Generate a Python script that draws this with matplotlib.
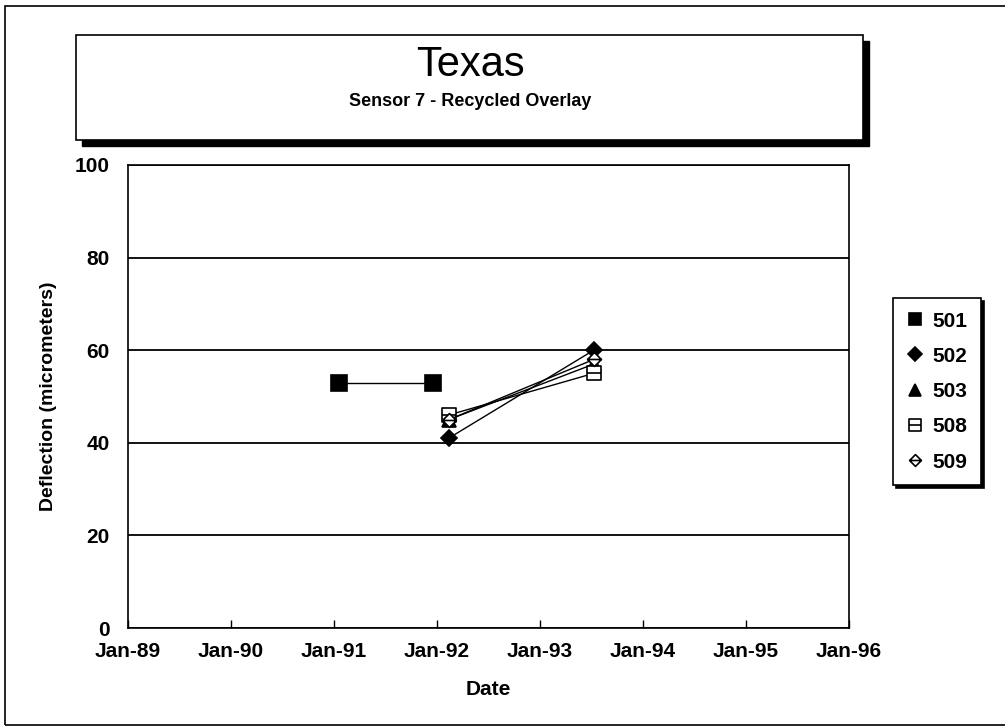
import matplotlib
matplotlib.use("Agg")
import matplotlib.pyplot as plt
import matplotlib.dates as mdates
from matplotlib.patches import Rectangle
from matplotlib.path import Path
from datetime import datetime

plt.rcParams['font.family'] = ['Liberation Sans', 'DejaVu Sans']

# data
sections = ["501", "502", "503", "508", "509"]
dates_501 = ["1991-01-20", "1991-12-20"]
dates_rest = ["1992-02-12", "1993-07-10"]
defl = {
    "501": [53, 53],
    "502": [41, 60],
    "503": [45, 57],
    "508": [46, 55],
    "509": [45, 58],
}
xtick_years = [1989, 1990, 1991, 1992, 1993, 1994, 1995, 1996]

# markers: square / diamond with a line through the middle
sq_line = Path([(-1, -1), (1, -1), (1, 1), (-1, 1), (-1, -1), (-1, 0), (1, 0)],
               [Path.MOVETO, Path.LINETO, Path.LINETO, Path.LINETO, Path.CLOSEPOLY,
                Path.MOVETO, Path.LINETO])
dia_line = Path([(0, -1), (1, 0), (0, 1), (-1, 0), (0, -1), (-1, 0), (1, 0)],
                [Path.MOVETO, Path.LINETO, Path.LINETO, Path.LINETO, Path.CLOSEPOLY,
                 Path.MOVETO, Path.LINETO])
styles = {
    "501": dict(marker='s', mfc='black', ms=11),
    "502": dict(marker='D', mfc='black', ms=8),
    "503": dict(marker='^', mfc='black', ms=10),
    "508": dict(marker=sq_line, mfc='white', ms=10),
    "509": dict(marker=dia_line, mfc='white', ms=10),
}

W, H = 1005, 727
fig = plt.figure(figsize=(W / 100, H / 100), dpi=100)

# outer frame
fig.add_artist(Rectangle((5 / W, 2 / H), 1.1, 719 / H, transform=fig.transFigure,
                         fill=False, ec='black', lw=1.2))

# title box with shadow
bx0, by0, bw, bh = 76 / W, (H - 140) / H, 787 / W, 105 / H
fig.add_artist(Rectangle((bx0 + 6 / W, by0 - 6 / H), bw, bh, transform=fig.transFigure,
                         fc='black', ec='black'))
fig.add_artist(Rectangle((bx0, by0), bw, bh, transform=fig.transFigure,
                         fc='white', ec='black', lw=1.2))
fig.text(470 / W, 1 - 65 / H, "Texas", fontsize=30, ha='center', va='center')
fig.text(470 / W, 1 - 101 / H, "Sensor 7 - Recycled Overlay", fontsize=13,
         fontweight='bold', ha='center', va='center')

ax = fig.add_axes([128 / W, (H - 628) / H, 721 / W, 463 / H])
handles = []
for s in sections:
    d = dates_501 if s == "501" else dates_rest
    x = [datetime.strptime(v, "%Y-%m-%d") for v in d]
    ln, = ax.plot(x, defl[s], color='black', lw=1, mec='black', mew=1.2,
                  label=s, **styles[s])
    handles.append(ln)

ax.set_ylim(0, 100)
ax.set_xlim(datetime(1989, 1, 1), datetime(1996, 1, 1))
ax.set_yticks([0, 20, 40, 60, 80, 100])
ax.set_xticks([datetime(y, 1, 1) for y in xtick_years])
ax.xaxis.set_major_formatter(mdates.DateFormatter("%b-%y"))
ax.yaxis.grid(True, color='black', lw=1.3)
ax.set_axisbelow(True)
for sp in ax.spines.values():
    sp.set_color('black')
    sp.set_linewidth(1.2)
ax.tick_params(axis='x', direction='in', length=6, width=1, pad=10,
               labelsize=15)
ax.tick_params(axis='y', length=0, pad=13, labelsize=15)
for lab in ax.get_xticklabels() + ax.get_yticklabels():
    lab.set_fontweight('bold')
ax.set_xlabel("Date", fontsize=15, fontweight='bold', labelpad=14)
ax.set_ylabel("Deflection (micrometers)", fontsize=14, fontweight='bold', labelpad=13)

leg = fig.legend(handles=handles, labels=sections, loc='upper left',
                 bbox_to_anchor=(893 / W, 1 - 298 / H), frameon=True, fancybox=False,
                 shadow={'color': 'black', 'alpha': 1}, edgecolor='black',
                 prop={'size': 15, 'weight': 'bold'}, handlelength=0.8,
                 handletextpad=0.45, labelspacing=0.78, borderpad=0.65,
                 markerscale=0.85, borderaxespad=0)
for h in leg.legend_handles:
    h.set_linestyle('none')
leg.get_frame().set_linewidth(1.2)

fig.savefig("out.png", dpi=100)
